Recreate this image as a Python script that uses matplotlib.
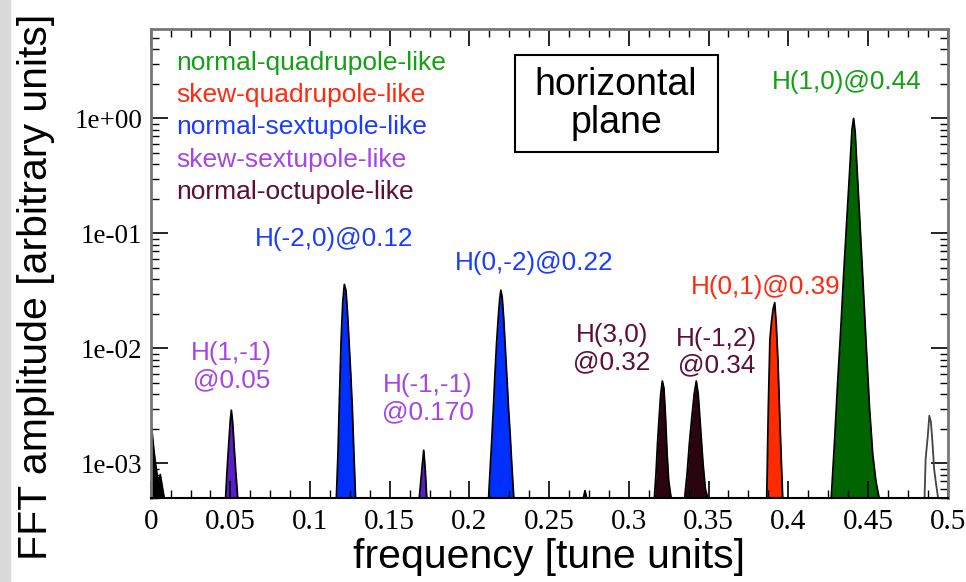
import matplotlib.pyplot as plt
from matplotlib.ticker import MultipleLocator, FuncFormatter, LogLocator
from matplotlib.patches import Rectangle

# ---- spectrum peaks (frequency [tune], amplitude) ----
f_dc = [0.0000, 0.0010, 0.0020, 0.0030, 0.0040, 0.0050, 0.0060, 0.0075, 0.0085]
a_dc = [2.4e-3, 1.8e-3, 1.3e-3, 1.0e-3, 8e-4, 7e-4, 8e-4, 6e-4, 5e-4]

f_h1m1 = [0.0470, 0.0480, 0.0490, 0.0500, 0.0506, 0.0515, 0.0525, 0.0535, 0.0546]
a_h1m1 = [5e-4, 9e-4, 1.5e-3, 2.4e-3, 2.9e-3, 2.2e-3, 1.3e-3, 8e-4, 5e-4]

f_hm20 = [0.1165, 0.1175, 0.1185, 0.1195, 0.1205, 0.1215, 0.1225, 0.1235,
          0.1245, 0.1255, 0.1265, 0.1275, 0.1285]
a_hm20 = [5e-4, 1.2e-3, 4e-3, 1.2e-2, 2.5e-2, 3.6e-2, 3.2e-2, 2.0e-2,
          1.1e-2, 6e-3, 3e-3, 1.2e-3, 5e-4]

f_hm1m1 = [0.1685, 0.1695, 0.1705, 0.1713, 0.1722, 0.1732]
a_hm1m1 = [5e-4, 7e-4, 1.0e-3, 1.3e-3, 9e-4, 5e-4]

f_h0m2 = [0.2120, 0.2130, 0.2140, 0.2150, 0.2160, 0.2170, 0.2180, 0.2190, 0.2197,
          0.2205, 0.2215, 0.2225, 0.2235, 0.2245, 0.2255, 0.2265, 0.2278]
a_h0m2 = [5e-4, 9e-4, 1.6e-3, 3e-3, 6e-3, 1.1e-2, 1.8e-2, 2.7e-2, 3.2e-2,
          2.8e-2, 1.8e-2, 1.0e-2, 5.5e-3, 3e-3, 1.8e-3, 1.0e-3, 5e-4]

f_small = [0.2715, 0.2725, 0.2735]
a_small = [5e-4, 5.8e-4, 5e-4]

f_h30 = [0.3160, 0.3170, 0.3180, 0.3190, 0.3200, 0.3210, 0.3220, 0.3230,
         0.3240, 0.3250, 0.3265]
a_h30 = [5e-4, 8e-4, 1.5e-3, 2.5e-3, 4e-3, 5.2e-3, 4.5e-3, 2.5e-3,
         1.2e-3, 7e-4, 5e-4]

f_hm12 = [0.3350, 0.3365, 0.3380, 0.3395, 0.3410, 0.3423, 0.3435, 0.3450,
          0.3465, 0.3480, 0.3495]
a_hm12 = [5e-4, 8e-4, 1.5e-3, 2.5e-3, 4e-3, 5.2e-3, 4e-3, 2e-3,
          1e-3, 6e-4, 5e-4]

f_h01 = [0.3865, 0.3875, 0.3885, 0.3895, 0.3905, 0.3915, 0.3925, 0.3935,
         0.3945, 0.3955, 0.3965]
a_h01 = [5e-4, 3e-3, 1.2e-2, 1.7e-2, 2.2e-2, 2.5e-2, 1.6e-2, 8e-3,
         3e-3, 1.2e-3, 5e-4]

f_h10 = [0.427, 0.429, 0.431, 0.433, 0.435, 0.437, 0.439, 0.440, 0.441,
         0.442, 0.443, 0.445, 0.447, 0.449, 0.451, 0.453, 0.455, 0.457]
a_h10 = [5e-4, 1.5e-3, 5e-3, 1.5e-2, 5e-2, 0.15, 0.45, 0.8, 1.0,
         0.75, 0.4, 0.12, 3.5e-2, 1e-2, 3e-3, 1.2e-3, 7e-4, 5e-4]

f_end = [0.4855, 0.4862, 0.4875, 0.4885, 0.4895, 0.4905, 0.4915, 0.4925, 0.4940]
a_end = [5e-4, 1.1e-3, 1.7e-3, 2.6e-3, 2.3e-3, 1.5e-3, 9e-4, 7e-4, 5e-4]

legend_names = ["normal-quadrupole-like", "skew-quadrupole-like",
                "normal-sextupole-like", "skew-sextupole-like",
                "normal-octupole-like"]

YMIN, YMAX = 5e-4, 6.0

# colours: (fill, text)
c_nq = ("#006400", "#14a014")
c_sq = ("#ff2a00", "#ff2a10")
c_ns = ("#0030ff", "#1a3cff")
c_ss = ("#5a1ec8", "#a645e6")
c_no = ("#2a0510", "#5c0e38")

fig = plt.figure(figsize=(9.66, 5.82), dpi=100)
fig.patches.append(Rectangle((0, 0), 10 / 966, 1, transform=fig.transFigure,
                             color="#dadada", zorder=0))
ax = fig.add_axes([0.156, 0.1443, 0.825, 0.806])

peaks = [
    (f_dc, a_dc, "black"),
    (f_h1m1, a_h1m1, c_ss[0]),
    (f_hm20, a_hm20, c_ns[0]),
    (f_hm1m1, a_hm1m1, c_ss[0]),
    (f_h0m2, a_h0m2, c_ns[0]),
    (f_small, a_small, "black"),
    (f_h30, a_h30, c_no[0]),
    (f_hm12, a_hm12, c_no[0]),
    (f_h01, a_h01, c_sq[0]),
    (f_h10, a_h10, c_nq[0]),
    (f_end, a_end, "white"),
]
for f, a, col in peaks:
    ax.fill_between(f, YMIN, a, color=col, lw=0)
    ax.plot(f, a, color="#444444" if col == "white" else "black", lw=1.3)

ax.set_yscale("log")
ax.set_xlim(0, 0.5)
ax.set_ylim(YMIN, YMAX)

ax.xaxis.set_major_locator(MultipleLocator(0.05))
ax.xaxis.set_minor_locator(MultipleLocator(0.0125))
ax.xaxis.set_major_formatter(FuncFormatter(lambda v, p: "%g" % round(v, 3)))
ax.yaxis.set_major_locator(LogLocator(base=10))
ax.yaxis.set_minor_locator(LogLocator(base=10, subs=range(2, 10)))
ax.yaxis.set_major_formatter(FuncFormatter(lambda v, p: "%.0e" % v))

ax.tick_params(which="both", direction="in", top=True, right=True, color="black")
ax.tick_params(which="major", length=12, width=1.2)
ax.tick_params(which="minor", length=6, width=1)
ax.tick_params(axis="x", which="major", labelsize=21, pad=8)
ax.tick_params(axis="y", which="major", labelsize=19.5, pad=6)
for lab in ax.get_xticklabels() + ax.get_yticklabels():
    lab.set_family("Liberation Serif")
for s in ax.spines.values():
    s.set_color("#777777")
    s.set_linewidth(2)
ax.spines["bottom"].set_color("black")
ax.spines["bottom"].set_linewidth(1.5)

sans = "Liberation Sans"
ax.set_xlabel("frequency [tune units]", fontsize=29.5, family=sans)
ax.xaxis.set_label_coords(0.5, -0.085)
ax.set_ylabel("FFT amplitude [arbitrary units]", fontsize=29.5, family=sans)
ax.yaxis.set_label_coords(-0.12, 0.45)

# legend-like coloured list
leg_cols = [c_nq[1], c_sq[1], c_ns[1], c_ss[1], c_no[1]]
leg_y = [0.927, 0.859, 0.791, 0.721, 0.653]
for name, col, yy in zip(legend_names, leg_cols, leg_y):
    ax.text(0.032, yy, name, color=col, fontsize=19, family=sans,
            ha="left", va="center", transform=ax.transAxes)

# "horizontal plane" box
ax.add_patch(Rectangle((0.4567, 0.7377), 0.2547, 0.2069, transform=ax.transAxes,
                       fc="white", ec="black", lw=1.5, zorder=3))
ax.text(0.584, 0.840, "horizontal\nplane", fontsize=27, family=sans,
        ha="center", va="center", linespacing=1.1, transform=ax.transAxes,
        zorder=4)

# peak annotations
lbl = dict(fontsize=18.8, family=sans, ha="center", va="center", linespacing=1.15)
ax.text(0.4366, 2.06, "H(1,0)@0.44", color=c_nq[1], **lbl)
ax.text(0.3858, 0.0341, "H(0,1)@0.39", color=c_sq[1], **lbl)
ax.text(0.2892, 0.0100, "H(3,0)\n@0.32", color=c_no[1], **lbl)
ax.text(0.3549, 0.0093, "H(-1,2)\n@0.34", color=c_no[1], **lbl)
ax.text(0.2403, 0.0548, "H(0,-2)@0.22", color=c_ns[1], **lbl)
ax.text(0.1148, 0.0902, "H(-2,0)@0.12", color=c_ns[1], **lbl)
ax.text(0.0508, 0.00697, "H(1,-1)\n@0.05", color=c_ss[1], **lbl)
ax.text(0.1738, 0.00367, "H(-1,-1)\n@0.170", color=c_ss[1], **lbl)

fig.savefig("out.png", dpi=100)
